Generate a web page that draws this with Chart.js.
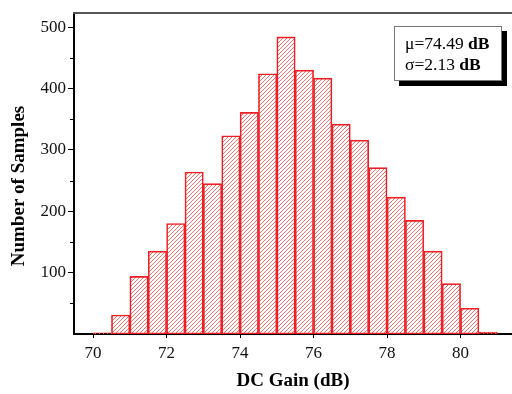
<!DOCTYPE html>
<html>
<head>
<meta charset="utf-8">
<script src="https://cdn.jsdelivr.net/npm/chart.js@4.4.0/dist/chart.umd.min.js"></script>
<style>
  html, body { margin: 0; padding: 0; background: #fff; }
</style>
</head>
<body>
<canvas id="hist" width="512" height="394"></canvas>
<script>
// histogram bins (0.5 dB wide), centre of each bin
const binCenters = [70.25, 70.75, 71.25, 71.75, 72.25, 72.75, 73.25, 73.75, 74.25, 74.75, 75.25,
                    75.75, 76.25, 76.75, 77.25, 77.75, 78.25, 78.75, 79.25, 79.75, 80.25, 80.75];
const counts = [2, 31, 94, 135, 180, 264, 245, 323, 361, 424, 484,
                430, 417, 342, 316, 271, 223, 185, 135, 82, 42, 3];

const xTicks = [70, 72, 74, 76, 78, 80];
const yTicks = [100, 200, 300, 400, 500];
const yMinorTicks = [50, 150, 250, 350, 450];

const xTitle = 'DC Gain (dB)';
const yTitle = 'Number of Samples';
const statLines = [['μ=74.49', ' dB'], ['σ=2.13', ' dB']];

const serif = '"Liberation Serif", "Times New Roman", serif';

// pixel hatch ("/") inside every bar, drawn before the bar borders
const hatchBars = {
    id: 'hatchBars',
    beforeDatasetsDraw(chart) {
        const ctx = chart.ctx;
        const meta = chart.getDatasetMeta(0);
        ctx.save();
        ctx.fillStyle = '#f87070';
        meta.data.forEach(bar => {
            const p = bar.getProps(['x', 'y', 'base', 'width'], true);
            const x0 = Math.round(p.x - p.width / 2);
            const x1 = Math.round(p.x + p.width / 2);
            const y0 = Math.round(Math.min(p.y, p.base));
            const y1 = Math.round(Math.max(p.y, p.base));
            for (let py = y0; py < y1; py++) {
                for (let px = x0; px < x1; px++) {
                    if ((px + py) % 4 === 0) ctx.fillRect(px, py, 1, 1);
                }
            }
        });
        ctx.restore();
    }
};

const extras = {
    id: 'extras',
    afterDraw(chart) {
        const ctx = chart.ctx;
        const area = chart.chartArea;
        ctx.save();

        // top frame line
        ctx.strokeStyle = '#555';
        ctx.lineWidth = 2;
        ctx.beginPath();
        ctx.moveTo(area.left - 1, area.top);
        ctx.lineTo(area.right, area.top);
        ctx.stroke();

        // minor ticks on the y axis
        const y = chart.scales.y;
        ctx.strokeStyle = '#000';
        ctx.lineWidth = 1;
        yMinorTicks.forEach(v => {
            const py = Math.round(y.getPixelForValue(v)) + 0.5;
            ctx.beginPath();
            ctx.moveTo(area.left - 4, py);
            ctx.lineTo(area.left, py);
            ctx.stroke();
        });

        // y axis title
        ctx.save();
        ctx.translate(19, 186);
        ctx.rotate(-Math.PI / 2);
        ctx.fillStyle = '#000';
        ctx.font = 'bold 19px ' + serif;
        ctx.textAlign = 'center';
        ctx.textBaseline = 'middle';
        ctx.fillText(yTitle, 0, 0);
        ctx.restore();

        // stats box with shadow
        ctx.fillStyle = '#000';
        ctx.fillRect(399, 31, 108, 55);
        ctx.fillStyle = '#fff';
        ctx.fillRect(394, 26, 108, 55);
        ctx.strokeStyle = '#777';
        ctx.lineWidth = 1;
        ctx.strokeRect(394.5, 26.5, 107, 54);

        ctx.fillStyle = '#000';
        ctx.textAlign = 'left';
        ctx.textBaseline = 'alphabetic';
        statLines.forEach((parts, i) => {
            const by = 49 + i * 21;
            ctx.font = '17.5px ' + serif;
            ctx.fillText(parts[0], 405, by);
            const w = ctx.measureText(parts[0]).width;
            ctx.font = 'bold 17.5px ' + serif;
            ctx.fillText(parts[1], 405 + w, by);
        });

        ctx.restore();
    }
};

new Chart(document.getElementById('hist'), {
    type: 'bar',
    data: {
        datasets: [{
            data: binCenters.map((c, i) => ({ x: c, y: counts[i] })),
            backgroundColor: 'rgba(255, 255, 255, 0)',
            borderColor: '#ee2026',
            borderWidth: 1,
            borderSkipped: false,
            barPercentage: 1,
            categoryPercentage: 1
        }]
    },
    options: {
        responsive: false,
        animation: false,
        layout: { padding: { top: 13, left: 0, right: 0, bottom: 0 } },
        plugins: {
            legend: { display: false },
            tooltip: { enabled: false }
        },
        scales: {
            x: {
                type: 'linear',
                offset: false,
                min: 69.48,
                max: 81.4,
                afterBuildTicks: scale => { scale.ticks = xTicks.map(v => ({ value: v })); },
                afterFit: scale => { scale.height = 60; },
                grid: { display: true, drawOnChartArea: false, drawTicks: true, tickLength: 4, color: '#000', offset: false },
                border: { display: true, color: '#000', width: 2 },
                ticks: {
                    color: '#111',
                    padding: 5,
                    maxRotation: 0,
                    font: { family: serif, size: 17 }
                },
                title: {
                    display: true,
                    text: xTitle,
                    color: '#000',
                    font: { family: serif, size: 19, weight: 'bold' },
                    padding: { top: 0, bottom: 2 }
                }
            },
            y: {
                min: 0,
                max: 523,
                afterBuildTicks: scale => { scale.ticks = yTicks.map(v => ({ value: v })); },
                afterFit: scale => { scale.width = 74; },
                grid: { display: true, drawOnChartArea: false, drawTicks: true, tickLength: 6, color: '#000' },
                border: { display: true, color: '#000', width: 2 },
                ticks: {
                    color: '#111',
                    padding: 2,
                    font: { family: serif, size: 17 }
                }
            }
        }
    },
    plugins: [hatchBars, extras]
});
</script>
</body>
</html>
